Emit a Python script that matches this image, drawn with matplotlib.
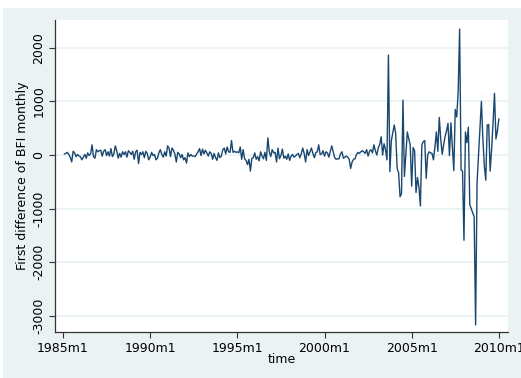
import matplotlib
matplotlib.use("Agg")
import matplotlib.pyplot as plt
from matplotlib.patches import Rectangle
import numpy as np

# Monthly first differences of the BFI, one row per year (1985 starts in February).
d1985 = [20, 30, 50, 10, -40, -130, 70, 40, -30, 10, -20]
d1986 = [-30, -90, -40, 10, -60, 40, -10, 20, 190, -30, -60, 100]
d1987 = [60, 80, 90, -20, 70, 100, -10, 60, -20, 120, -30, 20]
d1988 = [170, 80, -60, 30, -40, 60, 10, 60, -40, 80, 50, 10]
d1989 = [70, -80, 60, 90, -160, 50, 10, 60, -50, 70, 30, -90]
d1990 = [-40, 50, -10, 10, -90, -60, 40, 100, 10, -40, 60, -20]
d1991 = [170, 130, -30, 130, 90, 20, -130, 50, 20, -50, 10, -90]
d1992 = [-50, -150, 40, -30, 10, -20, -20, -30, 20, 60, 120, -10]
d1993 = [110, 20, 90, 40, -20, 60, 30, -80, 30, -50, -100, 40]
d1994 = [-50, -20, 100, 130, 20, 150, 60, 50, 270, 50, 70, 50]
d1995 = [60, 40, 150, -80, 100, -70, -100, -180, -80, -300, -60, -50]
d1996 = [40, -80, -30, -110, 60, -20, -70, 50, -100, 320, 60, -30]
d1997 = [100, 40, 50, -130, 130, -70, -10, 110, -60, -20, -80, 20]
d1998 = [-100, -20, 10, -40, -20, 10, 30, -50, 20, 130, 30, -130]
d1999 = [100, -10, 60, 130, 30, -50, 40, 60, 190, 10, 20, 80]
d2000 = [-20, 60, 40, -40, 70, 170, 60, -50, -80, -70, -70, 20]
d2001 = [60, -60, -40, -20, -40, -80, -250, -130, -80, -70, 10, 50]
d2002 = [30, 60, 80, 60, 30, 100, -20, 70, 100, 40, 190, 80]
d2003 = [0, 130, 200, 340, 0, 210, 100, -90, 1865, -310, 270, 420]
d2004 = [560, 400, -250, -330, -780, -720, 1025, -400, 0, 430, 300, 190]
d2005 = [-580, 140, 80, -700, -420, -600, -950, 190, 250, 270, -435, 0]
d2006 = [60, 40, 30, -90, 150, 430, 70, 700, 300, 15, 190, 350]
d2007 = [450, 590, -10, 600, 150, -290, 850, 710, 1180, 2350, -280, -300]
d2008 = [-1590, 430, 230, 520, -930, -1000, -1080, -1150, -3170, -520, 0, 500]
d2009 = [1000, 300, -200, -470, 560, 570, -300, 100, 600, 1150, 300, 450]
d2010 = [670]

dbfi = np.array(d1985 + d1986 + d1987 + d1988 + d1989 + d1990 + d1991 + d1992
                + d1993 + d1994 + d1995 + d1996 + d1997 + d1998 + d1999 + d2000
                + d2001 + d2002 + d2003 + d2004 + d2005 + d2006 + d2007 + d2008
                + d2009 + d2010)
# months since 1985m1
t = np.arange(1, len(dbfi) + 1)

xtick_pos = [0, 60, 120, 180, 240, 300]
xtick_labels = ["1985m1", "1990m1", "1995m1", "2000m1", "2005m1", "2010m1"]
ytick_pos = [-3000, -2000, -1000, 0, 1000, 2000]

navy = "#1a476f"
region = "#eaf2f3"

W, H = 521, 378
fig = plt.figure(figsize=(W / 100, H / 100), dpi=100, facecolor="white")
# graph region band, kept behind the axes
fig.patches.append(Rectangle((3 / W, 0), 1, 1 - 8 / H, transform=fig.transFigure,
                             facecolor=region, edgecolor="none", zorder=-10))

ax = fig.add_axes([55 / W, (H - 332) / H, (508 - 55) / W, (332 - 20) / H])
ax.set_zorder(1)
ax.set_facecolor("white")
ax.plot(t, dbfi, color=navy, lw=1.0, zorder=3)

ax.set_xlim(-5.5, 306.3)
ax.set_ylim(-3302, 2519)
ax.set_xticks(xtick_pos)
ax.set_xticklabels(xtick_labels, fontsize=9)
ax.set_yticks(ytick_pos)
ax.set_yticklabels([str(v) for v in ytick_pos], fontsize=9, rotation=90, va="center")
ax.tick_params(axis="both", length=4, width=0.8, color="#333333", pad=3)
ax.yaxis.grid(True, color=region, lw=1.3, zorder=0)
ax.set_axisbelow(True)

for side in ("top", "right"):
    ax.spines[side].set_visible(False)
for side in ("left", "bottom"):
    ax.spines[side].set_color("#333333")
    ax.spines[side].set_linewidth(0.9)

ax.set_xlabel("time", fontsize=9, labelpad=-1)
ax.set_ylabel("First difference of BFI monthly", fontsize=9, labelpad=2)

fig.savefig("out.png", dpi=100, facecolor=fig.get_facecolor())
